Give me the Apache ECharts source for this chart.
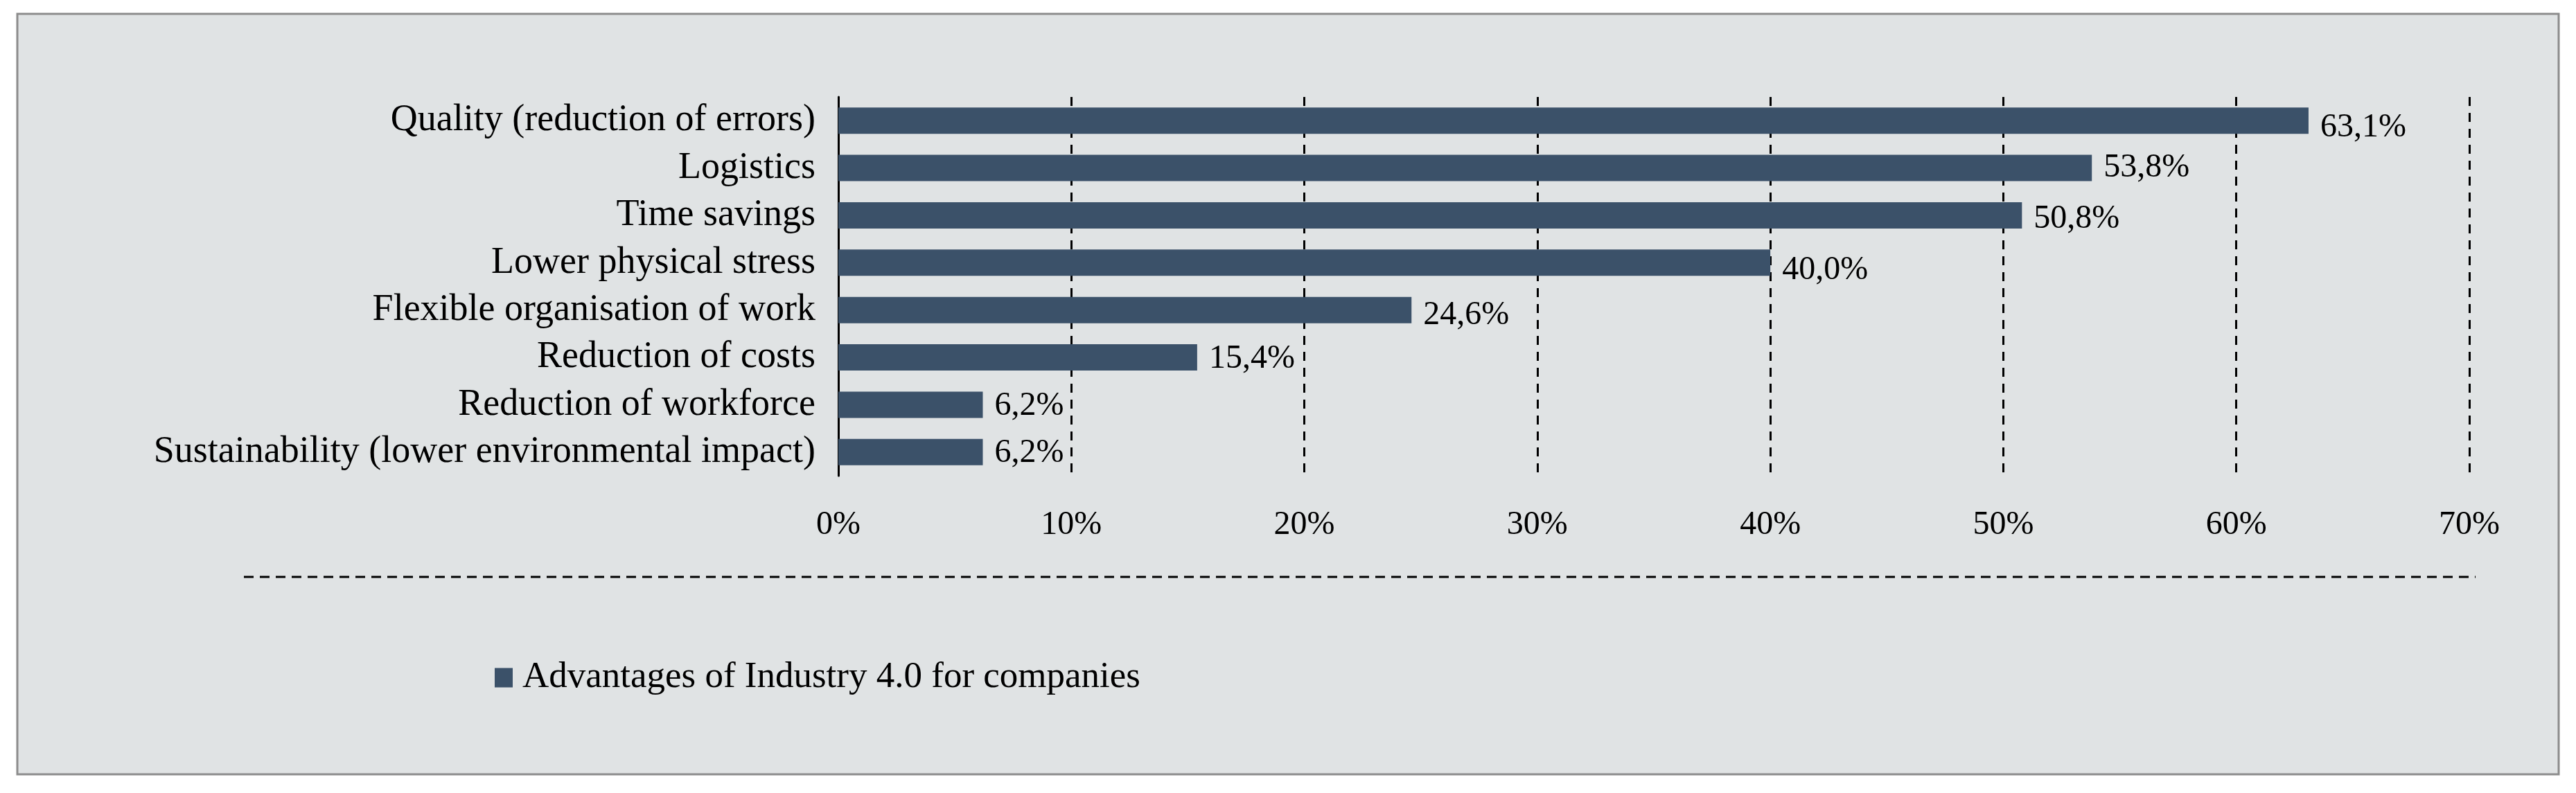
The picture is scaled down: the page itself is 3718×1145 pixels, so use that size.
<!DOCTYPE html>
<html>
<head>
<meta charset="utf-8">
<script src="https://cdn.jsdelivr.net/npm/echarts@6/dist/echarts.min.js"></script>
<style>
  html, body { margin: 0; padding: 0; background: #ffffff; }
  #chart { width: 3718px; height: 1145px; }
</style>
</head>
<body>
<div id="chart"></div>
<script>
// ---- data ----
const categories = [
  'Quality (reduction of errors)',
  'Logistics',
  'Time savings',
  'Lower physical stress',
  'Flexible organisation of work',
  'Reduction of costs',
  'Reduction of workforce',
  'Sustainability (lower environmental impact)'
];
const values = [63.1, 53.8, 50.8, 40.0, 24.6, 15.4, 6.2, 6.2];
const seriesName = 'Advantages of Industry 4.0 for companies';
const xTicks = [0, 10, 20, 30, 40, 50, 60, 70];

// ---- styling (kept apart from data) ----
const labelDy = [10, 0, 5, 11, 8, 2, 2, 2];
const FONT = '"Liberation Serif", "Times New Roman", serif';
const FS_NUM = 48;
const FS_TXT = 54;
const BAR = '#3b5169';

const chart = echarts.init(document.getElementById('chart'), null, { renderer: 'canvas' });

const option = {
  backgroundColor: '#ffffff',
  animation: false,
  textStyle: { fontFamily: FONT, color: '#000' },
  graphic: [
    {
      type: 'rect', z: -10, silent: true,
      shape: { x: 25, y: 20, width: 3668, height: 1098 },
      style: { fill: '#e0e3e4', stroke: '#8c8c8c', lineWidth: 3 }
    },
    {
      type: 'line', z: 5, silent: true,
      shape: { x1: 352, y1: 833, x2: 3573, y2: 833 },
      style: { stroke: '#000', lineWidth: 3, lineDash: [14, 9] }
    }
  ],
  grid: { left: 1210, right: 154, top: 140, bottom: 458, containLabel: false },
  legend: {
    left: 709, top: 947,
    icon: 'rect', itemWidth: 26, itemHeight: 28,
    textStyle: { fontFamily: FONT, fontSize: 53, color: '#000', padding: [0, 0, 0, 9] },
    data: [seriesName]
  },
  xAxis: {
    type: 'value', min: xTicks[0], max: xTicks[xTicks.length - 1], interval: 10,
    axisLine: { show: false }, axisTick: { show: false },
    axisLabel: { formatter: '{value}%', fontFamily: FONT, fontSize: FS_NUM, color: '#000', margin: 47 },
    splitLine: { show: true, lineStyle: { color: '#000', width: 3, type: [13, 10] } }
  },
  yAxis: {
    type: 'category', inverse: true, data: categories,
    axisLine: { show: true, lineStyle: { color: '#000', width: 3 } },
    axisTick: { show: false },
    axisLabel: { interval: 0, fontFamily: FONT, fontSize: FS_TXT, color: '#000', margin: 33 }
  },
  series: [{
    name: seriesName, type: 'bar', barWidth: 38,
    itemStyle: { color: BAR },
    data: values.map((v, i) => ({
      value: v,
      label: { offset: [0, labelDy[i]] }
    })),
    label: {
      show: true, position: 'right', distance: 17,
      fontFamily: FONT, fontSize: FS_NUM, color: '#000',
      formatter: p => p.value.toFixed(1).replace('.', ',') + '%'
    }
  }]
};
chart.setOption(option);
</script>
</body>
</html>
